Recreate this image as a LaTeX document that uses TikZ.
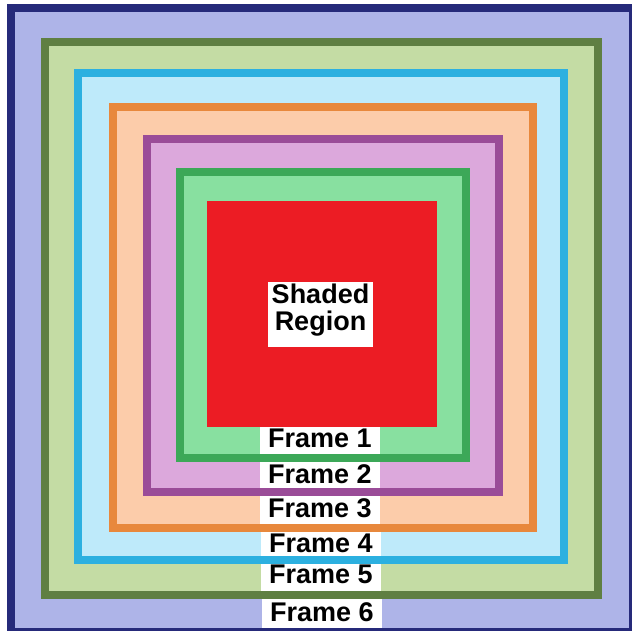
\documentclass[tikz,border=0pt]{standalone}
\usepackage{fontspec}
\setmainfont{Liberation Sans}
\definecolor{navyline}{HTML}{262A7A}
\definecolor{lavfill}{HTML}{AEB4E8}
\definecolor{oliveline}{HTML}{5F7F42}
\definecolor{olivefill}{HTML}{C4DCA4}
\definecolor{cyanline}{HTML}{2CB0E0}
\definecolor{cyanfill}{HTML}{BEEAFA}
\definecolor{orangeline}{HTML}{E8883C}
\definecolor{orangefill}{HTML}{FCCCAA}
\definecolor{purpleline}{HTML}{9A4C98}
\definecolor{purplefill}{HTML}{DCA8DC}
\definecolor{greenline}{HTML}{3CA858}
\definecolor{greenfill}{HTML}{88E0A0}
\definecolor{redfill}{HTML}{EC1C24}
\tikzset{
  framestroke/.style={line width=8pt},
  lbl/.style={fill=white, inner sep=0pt, minimum width=120pt, anchor=base,
    font=\fontsize{27}{27}\selectfont\bfseries, text height=21pt, text depth=7pt},
  shtext/.style={inner sep=0pt, anchor=base, font=\fontsize{27}{27}\selectfont\bfseries}
}
\begin{document}
\begin{tikzpicture}[x=1pt,y=-1pt]
\useasboundingbox (0,0) rectangle (632,631);
% outer navy border and lavender field
\fill[navyline] (7,4) rectangle (632,631);
\fill[lavfill] (15,12) rectangle (629,628);
% nested fills
\fill[olivefill] (44.5,42) rectangle (598,595);
\fill[cyanfill] (78,73) rectangle (564,559.5);
\fill[orangefill] (113,107) rectangle (533,528);
\fill[purplefill] (147,139) rectangle (499,492);
\fill[greenfill] (180,172) rectangle (465.5,458);
\fill[redfill] (207,201) rectangle (437,427);
% label boxes
\node[lbl, text height=20pt, text depth=7pt] (f1) at (320,447) {Frame 1};
\node[lbl, text height=21pt, text depth=5pt] (f2) at (320,483) {Frame 2};
\node[lbl, text height=21pt, text depth=7pt] (f3) at (320,517) {Frame 3};
\node[lbl, text height=20pt, text depth=5pt] (f4) at (321,552) {Frame 4};
\node[lbl, text height=20pt, text depth=8pt] (f5) at (321,583) {Frame 5};
\node[lbl, text height=22pt, text depth=7pt] (f6) at (322,621) {Frame 6};
% frame strokes
\draw[framestroke, oliveline] (44.5,42) rectangle (598,595);
\draw[framestroke, cyanline] (78,73) rectangle (564,559.5);
\draw[framestroke, orangeline] (113,107) rectangle (533,528);
\draw[framestroke, purpleline] (147,139) rectangle (499,492);
\draw[framestroke, greenline] (180,172) rectangle (465.5,458);
% shaded region label
\node[fill=white, inner sep=0pt, minimum width=105pt, minimum height=65pt] (shbox) at (320.5,314.5) {};
\node[shtext] (sh1) at (320.5,303) {Shaded};
\node[shtext] (sh2) at (320.5,330) {Region};
\end{tikzpicture}
\end{document}
